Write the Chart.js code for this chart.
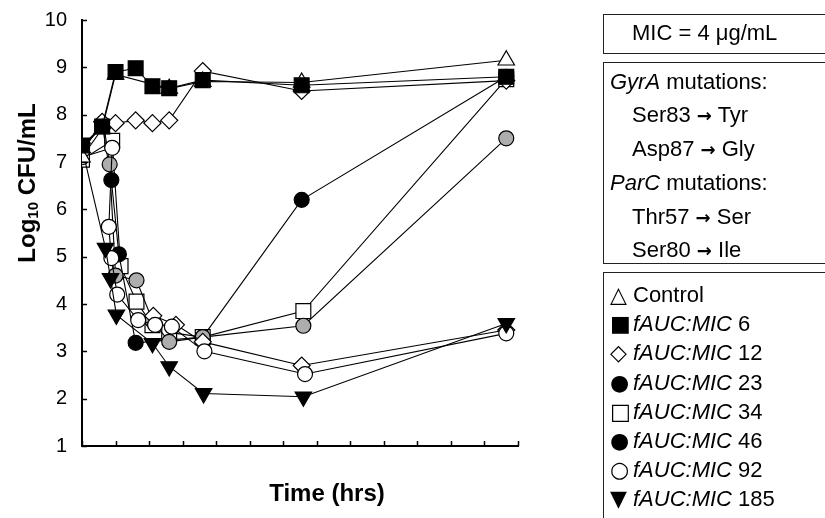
<!DOCTYPE html>
<html>
<head>
<meta charset="utf-8">
<script src="https://cdn.jsdelivr.net/npm/chart.js@4.4.1/dist/chart.umd.min.js"></script>
<style>
  html, body { margin:0; padding:0; background:#fff; }
  #wrap { position:relative; width:825px; height:518px; overflow:hidden; font-family:"Liberation Sans", Arial, sans-serif; }
  #c { position:absolute; left:0; top:0; }
  .box { position:absolute; left:603px; width:240px; border:1px solid #222; box-sizing:border-box; }
  .row { position:absolute; font-size:22px; line-height:24px; white-space:nowrap; color:#000; }
  .sym { font-family:"DejaVu Sans", sans-serif; display:inline-block; width:23px; }
  .arr { font-family:"DejaVu Sans", sans-serif; font-weight:bold; font-size:18px; }
</style>
</head>
<body>
<div id="wrap">
  <canvas id="c" width="825" height="518"></canvas>
  <div class="box" style="top:14px;height:40px;"></div>
  <div class="row" style="left:632px;top:21px;">MIC = 4 μg/mL</div>
  <div class="box" style="top:62px;height:202px;"></div>
  <div class="row" style="left:610px;top:70px;"><i>GyrA</i> mutations:</div>
  <div class="row" style="left:632px;top:103px;">Ser83 <span class="arr">→</span> Tyr</div>
  <div class="row" style="left:632px;top:137px;">Asp87 <span class="arr">→</span> Gly</div>
  <div class="row" style="left:610px;top:171px;"><i>ParC</i> mutations:</div>
  <div class="row" style="left:632px;top:205px;">Thr57 <span class="arr">→</span> Ser</div>
  <div class="row" style="left:632px;top:238px;">Ser80 <span class="arr">→</span> Ile</div>
  <div class="box" style="top:272px;height:260px;"></div>
  <div id="legend"></div>
</div>
<script>
// ---- data (time in hrs, log10 CFU/mL) ----
const seriesNames = ["Control", "fAUC:MIC 6", "fAUC:MIC 12", "fAUC:MIC 23", "fAUC:MIC 34", "fAUC:MIC 46", "fAUC:MIC 92", "fAUC:MIC 185"];
const ctrlT = [0, 1.2, 2, 5.2, 7.2, 13.1, 25.3];
const ctrlV = [7.1, 7.7, 8.85, 8.55, 8.7, 8.68, 9.15];
const auc6T = [0, 1.2, 2, 3.2, 4.2, 5.2, 7.2, 13.1, 25.3];
const auc6V = [7.35, 7.75, 8.9, 8.98, 8.6, 8.56, 8.73, 8.62, 8.8];
const auc12T = [0, 1.2, 2, 3.2, 4.2, 5.2, 7.2, 13.1, 25.3];
const auc12V = [7.2, 7.85, 7.82, 7.88, 7.82, 7.88, 8.92, 8.5, 8.72];
const auc12LowT = [4.25, 5.6, 7.2, 13.1, 25.3];
const auc12LowV = [3.75, 3.56, 3.2, 2.7, 3.45];
const auc23T = [0, 1.3, 1.65, 2, 3.25, 4.2, 5.2, 7.2, 13.2, 25.3];
const auc23V = [7.3, 7.78, 6.95, 4.6, 4.5, 3.65, 3.2, 3.3, 3.54, 7.5];
const auc34T = [0, 1.8, 2.3, 3.25, 4.2, 5.2, 7.2, 13.2, 25.3];
const auc34V = [7.05, 7.45, 4.8, 4.05, 3.55, 3.4, 3.3, 3.85, 8.75];
const auc46T = [0, 1.2, 1.75, 2.2, 3.2, 7.2, 13.1, 25.3];
const auc46V = [7.25, 7.8, 6.62, 5.05, 3.18, 3.3, 6.2, 8.8];
const auc92T = [0, 1.8, 1.6, 1.75, 2.1, 3.35, 4.36, 5.36, 7.3, 13.3, 25.3];
const auc92V = [7.1, 7.3, 5.63, 4.97, 4.2, 3.66, 3.56, 3.52, 3.0, 2.52, 3.38];
const auc185T = [0, 1.4, 1.7, 2.05, 4.2, 5.2, 7.25, 13.2, 25.3];
const auc185V = [7.3, 5.18, 4.54, 3.77, 3.17, 2.68, 2.11, 2.04, 3.59];
const xTickLabels = [0, 4, 8, 12, 16, 20, 24];
const yTickLabels = [1, 2, 3, 4, 5, 6, 7, 8, 9, 10];

const pts = (t, v) => t.map((x, i) => ({x: x, y: v[i]}));
const GRAY = '#adadad';
function ds(label, t, v, style, fill, radius, rot) {
  return {
    label: label, data: pts(t, v), showLine: true,
    borderColor: '#000', borderWidth: 1.1,
    pointStyle: style, pointRadius: radius, pointHoverRadius: radius,
    pointBackgroundColor: fill, pointBorderColor: '#000', pointBorderWidth: 1.2,
    pointRotation: rot || 0, tension: 0
  };
}
const datasets = [
  ds(seriesNames[1], auc6T, auc6V, 'rect', '#000', 10.5),
  ds(seriesNames[0], ctrlT, ctrlV, 'triangle', '#fff', 9.5),
  ds(seriesNames[2], auc12T, auc12V, 'rectRot', '#fff', 8.5),
  ds(seriesNames[7], auc185T, auc185V, 'triangle', '#000', 9.5, 180),
  ds(seriesNames[6], auc92T, auc92V, 'circle', '#fff', 7.5),
  ds(seriesNames[2], auc12LowT, auc12LowV, 'rectRot', '#fff', 8.5),
  ds(seriesNames[3], auc23T, auc23V, 'circle', GRAY, 7.5),
  ds(seriesNames[5], auc46T, auc46V, 'circle', '#000', 7.5),
  ds(seriesNames[4], auc34T, auc34V, 'rect', '#fff', 10.5),
];

// legend (HTML text)
const legendSyms = ['△', '■', '◇', '●', '□', '●', '○', '▼'];
const legendEl = document.getElementById('legend');
seriesNames.forEach((n, i) => {
  const d = document.createElement('div');
  d.className = 'row';
  d.style.left = '610px';
  d.style.top = (283 + i * 29.2) + 'px';
  const txt = n.startsWith('fAUC') ? '<i>fAUC:MIC</i>' + n.slice(8) : n;
  d.innerHTML = '<span class="sym">' + legendSyms[i] + '</span>' + txt;
  legendEl.appendChild(d);
});

const extras = {
  id: 'extras',
  afterDraw(chart) {
    const ctx = chart.ctx, xs = chart.scales.x, ys = chart.scales.y;
    ctx.save();
    ctx.strokeStyle = '#000'; ctx.lineWidth = 1.5;
    const x0 = xs.left, y0 = ys.bottom;
    for (let t = 0; t <= 26; t += 2) {
      const px = Math.round(xs.getPixelForValue(t)) + 0.5;
      ctx.beginPath(); ctx.moveTo(px, y0); ctx.lineTo(px, y0 - 5); ctx.stroke();
    }
    yTickLabels.forEach(v => {
      const py = Math.round(ys.getPixelForValue(v)) + 0.5;
      ctx.beginPath(); ctx.moveTo(x0, py); ctx.lineTo(x0 + 5, py); ctx.stroke();
    });
    ctx.fillStyle = '#000';
    ctx.font = 'bold 24px "Liberation Sans", Arial, sans-serif';
    ctx.textAlign = 'center'; ctx.textBaseline = 'middle';
    ctx.fillText('Time (hrs)', 327, 494);
    // y title with subscript
    ctx.translate(28, 183);
    ctx.rotate(-Math.PI / 2);
    const p1 = 'Log', p2 = '10', p3 = ' CFU/mL';
    ctx.font = 'bold 24px "Liberation Sans", Arial, sans-serif';
    const w1 = ctx.measureText(p1).width, w3 = ctx.measureText(p3).width;
    ctx.font = 'bold 15px "Liberation Sans", Arial, sans-serif';
    const w2 = ctx.measureText(p2).width;
    let sx = -(w1 + w2 + w3) / 2;
    ctx.textAlign = 'left';
    ctx.font = 'bold 24px "Liberation Sans", Arial, sans-serif';
    ctx.fillText(p1, sx, 0); sx += w1;
    ctx.font = 'bold 15px "Liberation Sans", Arial, sans-serif';
    ctx.fillText(p2, sx, 6); sx += w2;
    ctx.font = 'bold 24px "Liberation Sans", Arial, sans-serif';
    ctx.fillText(p3, sx, 0);
    ctx.restore();
  }
};

Chart.defaults.font.family = '"Liberation Sans", Arial, sans-serif';
Chart.defaults.color = '#000';
new Chart(document.getElementById('c'), {
  type: 'scatter',
  data: { datasets: datasets },
  plugins: [extras],
  options: {
    responsive: false, animation: false,
    layout: { padding: { left: 0, top: 20, right: 825 - 518, bottom: 72 } },
    plugins: { legend: { display: false }, tooltip: { enabled: false } },
    scales: {
      x: {
        type: 'linear', min: 0, max: 26,
        afterFit: s => { s.height = 0; s.paddingLeft = 0; s.paddingRight = 0; },
        grid: { display: false, drawTicks: false },
        border: { display: true, color: '#000', width: 2 },
        afterBuildTicks: s => { s.ticks = xTickLabels.map(v => ({value: v})); },
        ticks: { font: { size: 20 }, padding: 14, maxRotation: 0, autoSkip: false }
      },
      y: {
        type: 'linear', min: 1, max: 10,
        afterFit: s => { s.width = 82; s.paddingTop = 0; s.paddingBottom = 0; },
        grid: { display: false, drawTicks: false },
        border: { display: true, color: '#000', width: 2 },
        afterBuildTicks: s => { s.ticks = yTickLabels.map(v => ({value: v})); },
        ticks: { font: { size: 20 }, padding: 15 }
      }
    }
  }
});
</script>
</body>
</html>
